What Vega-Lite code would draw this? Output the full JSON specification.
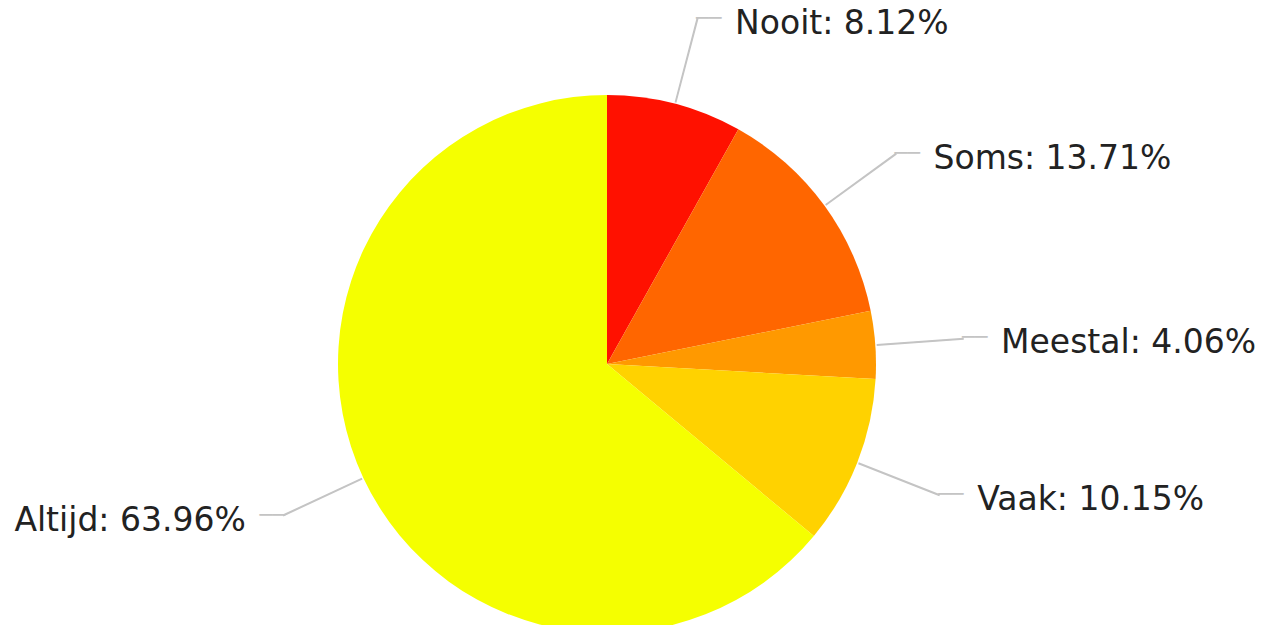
{
  "$schema": "https://vega.github.io/schema/vega-lite/v6.json",
  "autosize": "none",
  "padding": {"left": 0, "top": 104, "right": 60, "bottom": 1},
  "width": 1214,
  "height": 520,
  "background": "white",
  "config": {"view": {"stroke": null}, "text": {"font": "DejaVu Sans"}},
  "data": {"values": [
    {"cat": "Nooit", "value": 8.12, "rank": 1},
    {"cat": "Soms", "value": 13.71, "rank": 2},
    {"cat": "Meestal", "value": 4.06, "rank": 3},
    {"cat": "Vaak", "value": 10.15, "rank": 4},
    {"cat": "Altijd", "value": 63.96, "rank": 5}
  ]},
  "transform": [
    {"window": [{"op": "sum", "field": "value", "as": "cum"}], "sort": [{"field": "rank"}], "frame": [null, 0]},
    {"calculate": "datum.cum - datum.value / 2", "as": "mid"},
    {"calculate": "datum.mid + 0.035", "as": "mid2"},
    {"calculate": "datum.cat + ': ' + format(datum.value, '.2f') + '%'", "as": "label"}
  ],
  "layer": [
    {
      "mark": {"type": "arc", "outerRadius": 269},
      "encoding": {
        "theta": {"field": "value", "type": "quantitative", "stack": true, "scale": {"domain": [0, 100]}},
        "order": {"field": "rank", "type": "quantitative"},
        "color": {"field": "cat", "type": "nominal", "legend": null,
          "scale": {"domain": ["Nooit", "Soms", "Meestal", "Vaak", "Altijd"],
                    "range": ["#FF1100", "#FF6600", "#FF9900", "#FFD200", "#F5FF00"]}}
      }
    },
    {
      "mark": {"type": "arc", "innerRadius": 271, "outerRadius": 357, "fill": "#c4c4c4", "stroke": "#c4c4c4", "strokeWidth": 1.3},
      "encoding": {
        "theta": {"field": "mid", "type": "quantitative", "stack": false, "scale": {"domain": [0, 100]}},
        "theta2": {"field": "mid2"}
      }
    },
    {
      "transform": [{"filter": "datum.mid < 50"}],
      "mark": {"type": "text", "radius": 357, "align": "left", "baseline": "middle", "fontSize": 21, "fill": "#c4c4c4", "dx": -1},
      "encoding": {
        "theta": {"field": "mid", "type": "quantitative", "stack": false, "scale": {"domain": [0, 100]}},
        "text": {"value": "──"}
      }
    },
    {
      "transform": [{"filter": "datum.mid >= 50"}],
      "mark": {"type": "text", "radius": 357, "align": "right", "baseline": "middle", "fontSize": 21, "fill": "#c4c4c4", "dx": 1},
      "encoding": {
        "theta": {"field": "mid", "type": "quantitative", "stack": false, "scale": {"domain": [0, 100]}},
        "text": {"value": "──"}
      }
    },
    {
      "transform": [{"filter": "datum.mid < 50"}],
      "mark": {"type": "text", "radius": 357, "align": "left", "baseline": "middle", "fontSize": 33, "fill": "#222222", "dx": 38, "dy": 5},
      "encoding": {
        "theta": {"field": "mid", "type": "quantitative", "stack": false, "scale": {"domain": [0, 100]}},
        "text": {"field": "label"}
      }
    },
    {
      "transform": [{"filter": "datum.mid >= 50"}],
      "mark": {"type": "text", "radius": 357, "align": "right", "baseline": "middle", "fontSize": 33, "fill": "#222222", "dx": -38, "dy": 5},
      "encoding": {
        "theta": {"field": "mid", "type": "quantitative", "stack": false, "scale": {"domain": [0, 100]}},
        "text": {"field": "label"}
      }
    }
  ]
}
